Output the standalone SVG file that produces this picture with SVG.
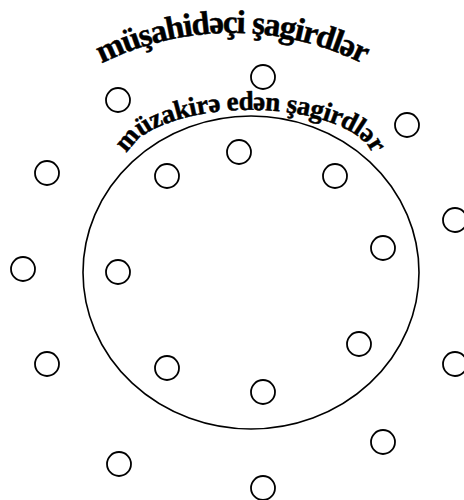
<svg xmlns="http://www.w3.org/2000/svg" width="464" height="500" viewBox="0 0 464 500">
<defs>
<style>
.c{fill:none;stroke:#000;stroke-width:1.8}
.e{fill:none;stroke:#000;stroke-width:1.6}
.t{font-family:"Liberation Serif","Times New Roman",serif;font-weight:bold;fill:#000;stroke:#000;stroke-width:0.5}
</style>
<path id="arcTop" d="M -61 326 A 293 293 0 0 1 525 326"/>
<path id="arcIn" d="M 126 162 A 124 52 0 0 1 374 162"/>
</defs>
<rect width="464" height="500" fill="#fff"/>
<g id="discussion-circle">
<ellipse class="e" cx="251" cy="272.5" rx="168" ry="156.5"/>
</g>
<g id="label-observers">
<text class="t" font-size="33" letter-spacing="-1.2" text-anchor="middle"><textPath href="#arcTop" startOffset="50%">müşahidəçi şagirdlər</textPath></text>
</g>
<g id="label-discussants">
<text class="t" font-size="27" letter-spacing="-0.4" text-anchor="middle"><textPath href="#arcIn" startOffset="50%">müzakirə edən şagirdlər</textPath></text>
</g>
<g id="students">
<circle id="s1" class="c" cx="263" cy="77" r="12"/>
<circle id="s2" class="c" cx="118" cy="100" r="12"/>
<circle id="s3" class="c" cx="407" cy="125" r="12"/>
<circle id="s4" class="c" cx="47" cy="173" r="12"/>
<circle id="s5" class="c" cx="167" cy="176" r="12"/>
<circle id="s6" class="c" cx="239" cy="152" r="12"/>
<circle id="s7" class="c" cx="335" cy="176" r="12"/>
<circle id="s8" class="c" cx="455" cy="220" r="12"/>
<circle id="s9" class="c" cx="383" cy="248" r="12"/>
<circle id="s10" class="c" cx="23" cy="269" r="12"/>
<circle id="s11" class="c" cx="118" cy="272" r="12"/>
<circle id="s12" class="c" cx="47" cy="364" r="12"/>
<circle id="s13" class="c" cx="167" cy="368" r="12"/>
<circle id="s14" class="c" cx="263" cy="392" r="12"/>
<circle id="s15" class="c" cx="359" cy="344" r="12"/>
<circle id="s16" class="c" cx="455" cy="364" r="12"/>
<circle id="s17" class="c" cx="383" cy="442" r="12"/>
<circle id="s18" class="c" cx="119" cy="464" r="12"/>
<circle id="s19" class="c" cx="263" cy="488" r="12"/>
</g>
</svg>
